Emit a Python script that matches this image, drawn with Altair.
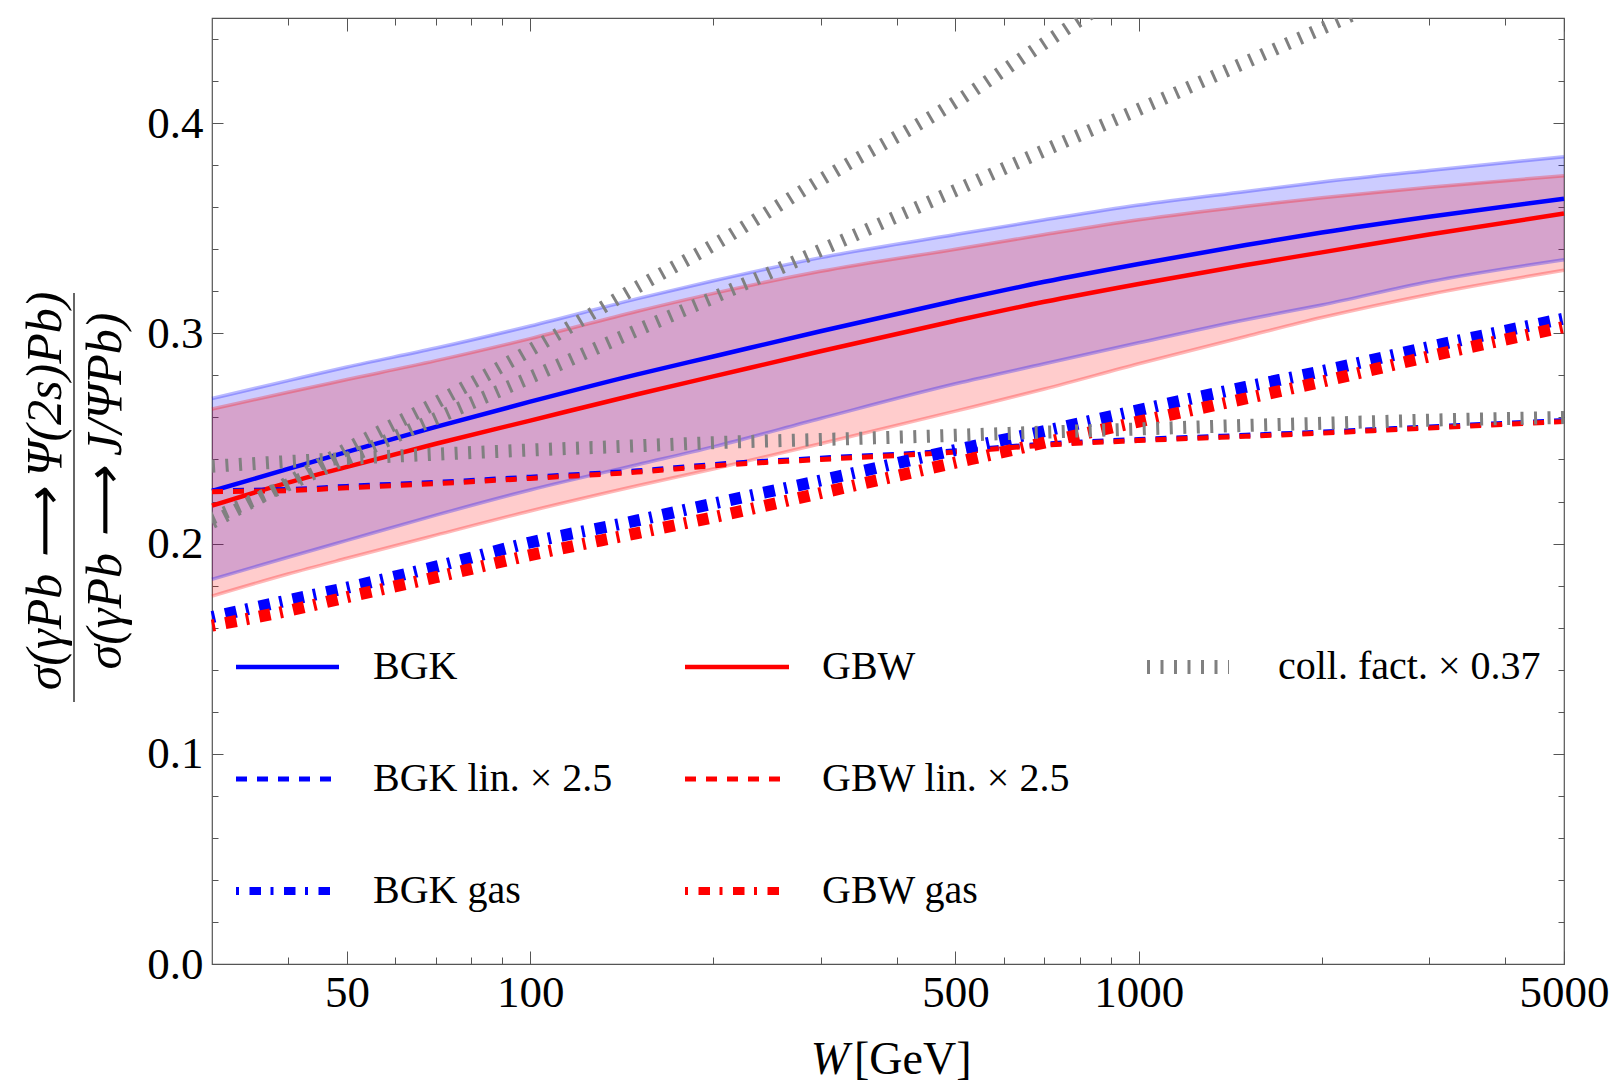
import altair as alt
import pandas as pd

# ---------------- data ----------------
W = [30, 40, 50, 70, 100, 150, 200, 300, 500, 700, 1000, 1500, 2000, 3000, 5000]
bgk = [0.225, 0.2355, 0.2436, 0.2555, 0.2675, 0.2805, 0.289, 0.301, 0.3155, 0.3245, 0.333, 0.342, 0.348, 0.3555, 0.364]
gbw = [0.218, 0.229, 0.2365, 0.2475, 0.2585, 0.271, 0.2795, 0.2915, 0.306, 0.315, 0.3235, 0.3325, 0.3385, 0.347, 0.357]
bgk_hi = [0.269, 0.2775, 0.284, 0.293, 0.3035, 0.3165, 0.325, 0.336, 0.347, 0.354, 0.361, 0.3675, 0.372, 0.3775, 0.384]
bgk_lo = [0.183, 0.1935, 0.2015, 0.2135, 0.2255, 0.2375, 0.246, 0.2595, 0.276, 0.2855, 0.2955, 0.3065, 0.3135, 0.3245, 0.335]
gbw_hi = [0.264, 0.272, 0.278, 0.287, 0.2975, 0.3105, 0.319, 0.3295, 0.340, 0.347, 0.354, 0.3605, 0.3645, 0.3695, 0.375]
gbw_lo = [0.175, 0.1855, 0.193, 0.204, 0.2155, 0.2275, 0.2355, 0.2475, 0.263, 0.2735, 0.2855, 0.2985, 0.3075, 0.3185, 0.330]
bgk_lin = [0.2252, 0.2257, 0.2272, 0.2291, 0.2316, 0.2346, 0.2376, 0.2406, 0.2441, 0.2473, 0.2495, 0.2515, 0.253, 0.2555, 0.2585]
gbw_lin = [0.2247, 0.2252, 0.2265, 0.2285, 0.231, 0.234, 0.237, 0.240, 0.2435, 0.2468, 0.249, 0.251, 0.2525, 0.255, 0.258]
bgk_gas = [0.165, 0.173, 0.179, 0.189, 0.2005, 0.211, 0.219, 0.230, 0.2445, 0.2535, 0.2635, 0.2745, 0.282, 0.2935, 0.307]
gbw_gas = [0.161, 0.168, 0.1745, 0.184, 0.1945, 0.205, 0.2125, 0.224, 0.2385, 0.248, 0.258, 0.269, 0.277, 0.289, 0.303]
coll_flat = [0.2368, 0.239, 0.2405, 0.2425, 0.2445, 0.2465, 0.248, 0.2495, 0.2515, 0.253, 0.2545, 0.2562, 0.2572, 0.2587, 0.260]
W_steep = [30, 40, 50, 70, 100, 150, 200, 300, 500, 700, 1000]
coll_steep = [0.210, 0.229, 0.245, 0.267, 0.292, 0.322, 0.342, 0.373, 0.410, 0.438, 0.467]
W_mid = [30, 40, 50, 70, 100, 150, 200, 300, 500, 700, 1000, 1500, 2000, 3000]
coll_mid = [0.212, 0.228, 0.2405, 0.2595, 0.279, 0.3015, 0.317, 0.3395, 0.368, 0.387, 0.4065, 0.429, 0.445, 0.4675]

x_major = [50, 100, 500, 1000, 5000]
x_minor = [40, 60, 70, 80, 90, 200, 300, 400, 600, 700, 800, 900, 2000, 3000, 4000]
y_major = [0.0, 0.1, 0.2, 0.3, 0.4]
y_minor = [0.02, 0.04, 0.06, 0.08, 0.12, 0.14, 0.16, 0.18, 0.22, 0.24, 0.26, 0.28,
           0.32, 0.34, 0.36, 0.38, 0.42, 0.44]

legend_labels = ["BGK", "GBW", "coll. fact. × 0.37", "BGK lin. × 2.5", "GBW lin. × 2.5", "BGK gas", "GBW gas"]
y_title_num = "σ(γPb ⟶ Ψ(2s)Pb)"
y_title_den = "σ(γPb ⟶ J/ΨPb)"
x_title_var = "W"
x_title_unit = "[GeV]"

# ---------------- styling ----------------
PW, PH = 1352, 946
SERIF = "Liberation Serif"
FRAME = "#555555"
BLUE, RED, GRAY = "#0000ff", "#ff0000", "#808080"
xs = alt.Scale(type="log", domain=[30, 5000], nice=False)
ys = alt.Scale(domain=[0, 0.45], nice=False, zero=False)

GAS_DASH = [3, 10.5, 11.5, 9.5]
COLL_DASH = [3, 10.5]
LIN_DASH = [11, 10]


def line(ws, vs, color, width, dash=None, clip=False, opacity=None):
    kw = dict(color=color, strokeWidth=width, interpolate="monotone", clip=clip, strokeCap="butt")
    if dash:
        kw["strokeDash"] = dash
    if opacity is not None:
        kw["opacity"] = opacity
    return alt.Chart(pd.DataFrame({"W": ws, "v": vs})).mark_line(**kw).encode(
        x=alt.X("W:Q", scale=xs, axis=None),
        y=alt.Y("v:Q", scale=ys, axis=None),
    )


def band(ws, lo, hi, color):
    return alt.Chart(pd.DataFrame({"W": ws, "lo": lo, "hi": hi})).mark_area(
        color=color, opacity=0.2, interpolate="monotone").encode(
        x=alt.X("W:Q", scale=xs, axis=None),
        y=alt.Y("lo:Q", scale=ys, axis=None),
        y2="hi:Q",
    )


carrier = pd.DataFrame({"W": [100], "v": [0.1]})


def axes_layer(xaxis, yaxis):
    return alt.Chart(carrier).mark_point(opacity=0).encode(
        x=alt.X("W:Q", scale=xs, axis=xaxis),
        y=alt.Y("v:Q", scale=ys, axis=yaxis),
    )


tick_common = dict(labels=False, domain=False, grid=False, title=None, ticks=True,
                   tickColor=FRAME, tickWidth=1)

xb_lab = alt.Axis(orient="bottom", values=x_major, format="d", labelFont=SERIF, labelFontSize=45,
                  labelColor="black", labelPadding=6, ticks=False, tickSize=0, domain=False,
                  grid=False, title=None, labelFlush=False, labelOverlap=False)
yl_lab = alt.Axis(orient="left", values=y_major, format=".1f", labelFont=SERIF, labelFontSize=45,
                  labelColor="black", labelPadding=9, ticks=False, tickSize=0, domain=False,
                  grid=False, title=None, labelFlush=False, labelOverlap=False)

axes = [
    axes_layer(xb_lab, yl_lab),
    axes_layer(alt.Axis(orient="bottom", values=x_major, offset=-13, tickSize=13, **tick_common),
               alt.Axis(orient="left", values=y_major, offset=-11, tickSize=11, **tick_common)),
    axes_layer(alt.Axis(orient="bottom", values=x_minor, offset=-7, tickSize=7, **tick_common),
               alt.Axis(orient="left", values=y_minor, offset=-6, tickSize=6, **tick_common)),
    axes_layer(alt.Axis(orient="top", values=x_major, offset=-13, tickSize=13, **tick_common),
               alt.Axis(orient="right", values=y_major, offset=-11, tickSize=11, **tick_common)),
    axes_layer(alt.Axis(orient="top", values=x_minor, offset=-7, tickSize=7, **tick_common),
               alt.Axis(orient="right", values=y_minor, offset=-6, tickSize=6, **tick_common)),
]

one = pd.DataFrame({"k": [0]})


def text(t, x, y, size, align="left", baseline="middle", angle=None, style="normal"):
    kw = dict(text=t, font=SERIF, fontSize=size, align=align, baseline=baseline,
              fontStyle=style, color="black")
    if angle is not None:
        kw["angle"] = angle
    return alt.Chart(one).mark_text(**kw).encode(x=alt.value(x), y=alt.value(y))


def sample(x1, x2, y, color, width, dash=None):
    kw = dict(color=color, strokeWidth=width, strokeCap="butt")
    if dash:
        kw["strokeDash"] = dash
    return alt.Chart(one).mark_rule(**kw).encode(x=alt.value(x1), x2=alt.value(x2), y=alt.value(y))


layers = [
    band(W, bgk_lo, bgk_hi, BLUE),
    band(W, gbw_lo, gbw_hi, RED),
    line(W, bgk_hi, BLUE, 3.5, opacity=0.28),
    line(W, bgk_lo, BLUE, 3.5, opacity=0.28),
    line(W, gbw_hi, RED, 3.5, opacity=0.28),
    line(W, gbw_lo, RED, 3.5, opacity=0.28),
    line(W, bgk, BLUE, 4.5),
    line(W, gbw, RED, 4.5),
    line(W, bgk_lin, BLUE, 5, LIN_DASH),
    line(W, gbw_lin, RED, 5, LIN_DASH),
    line(W, bgk_gas, BLUE, 12, GAS_DASH),
    line(W, gbw_gas, RED, 12, GAS_DASH),
    line(W, coll_flat, GRAY, 13, COLL_DASH, clip=True),
    line(W_mid, coll_mid, GRAY, 13, COLL_DASH, clip=True),
    line(W_steep, coll_steep, GRAY, 13, COLL_DASH, clip=True),
]

# legend (inside the frame, 3 columns x 3 rows)
R1, R2, R3 = 649, 761, 873
C1, C2, C3 = (24, 127, 161), (473, 577, 610), (935, 1017, 1066)
FS = 40
legend = [
    sample(C1[0], C1[1], R1, BLUE, 4.5), text(legend_labels[0], C1[2], R1, FS),
    sample(C2[0], C2[1], R1, RED, 4.5), text(legend_labels[1], C2[2], R1, FS),
    sample(C3[0], C3[1], R1, GRAY, 14, COLL_DASH), text(legend_labels[2], C3[2], R1, FS),
    sample(C1[0], C1[1], R2, BLUE, 5, LIN_DASH), text(legend_labels[3], C1[2], R2, FS),
    sample(C2[0], C2[1], R2, RED, 5, LIN_DASH), text(legend_labels[4], C2[2], R2, FS),
    sample(C1[0], C1[1] - 6, R3, BLUE, 8, GAS_DASH), text(legend_labels[5], C1[2], R3, FS),
    sample(C2[0], C2[1] - 6, R3, RED, 8, GAS_DASH), text(legend_labels[6], C2[2], R3, FS),
]

titles = [
    text(y_title_num, -166, PH / 2, 50, align="center", angle=270, style="italic"),
    text(y_title_den, -106, PH / 2, 50, align="center", angle=270, style="italic"),
    alt.Chart(one).mark_rule(color="#666666", strokeWidth=2).encode(
        x=alt.value(-138), y=alt.value(275), y2=alt.value(684)),
    text(x_title_var, 637, 1056, 46, align="right", baseline="alphabetic", style="italic"),
    text(x_title_unit, 642, 1056, 46, align="left", baseline="alphabetic"),
]

chart = alt.layer(*layers, *axes, *legend, *titles).resolve_axis(
    x="independent", y="independent"
).properties(
    width=PW, height=PH,
    padding={"left": 212, "top": 18, "right": 49, "bottom": 122},
    autosize=alt.AutoSizeParams(type="none"),
    background="white",
).configure_view(stroke=FRAME, strokeWidth=1.2)

chart.save("out.html", embed_options={"renderer": "svg", "actions": False})
